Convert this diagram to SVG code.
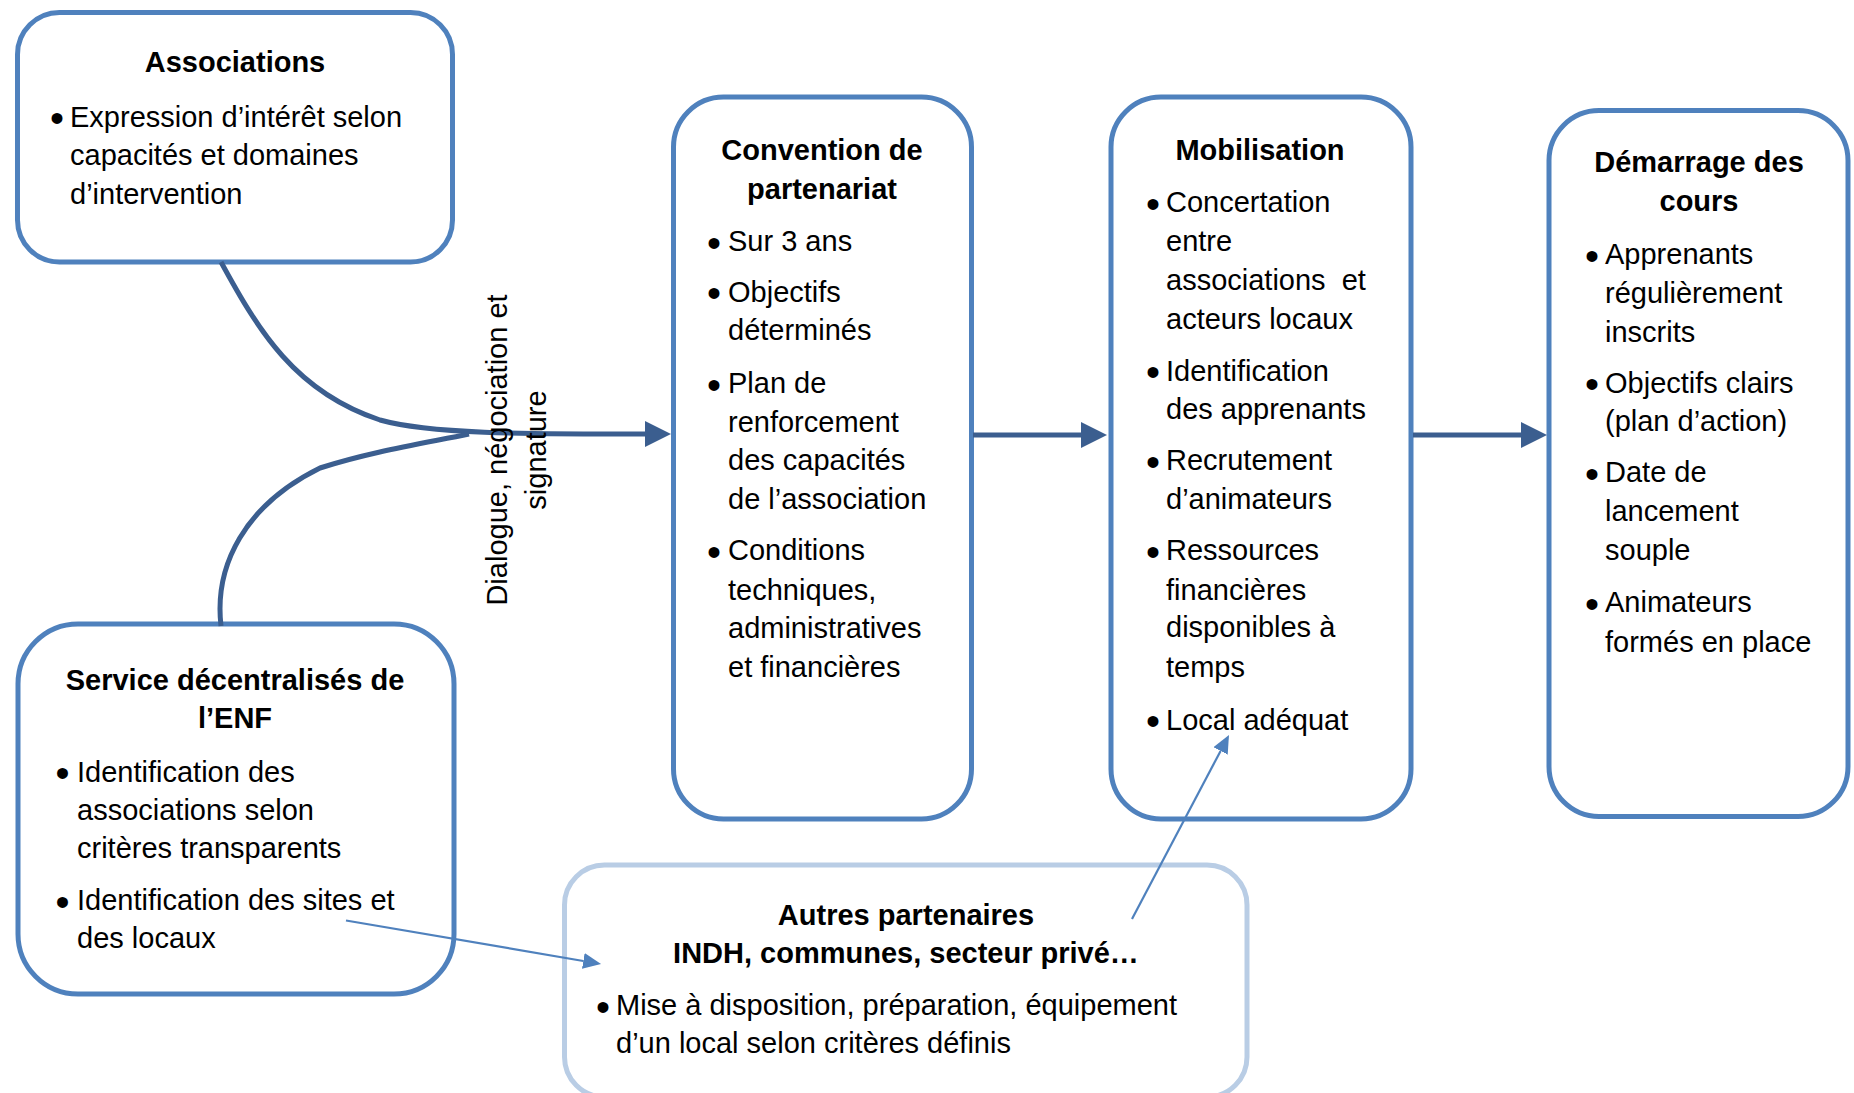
<svg xmlns="http://www.w3.org/2000/svg" width="1854" height="1093" viewBox="0 0 1854 1093">
  <defs>
    <style>
      .box { fill: #ffffff; stroke: #4F81BD; stroke-width: 5; }
      .box-pale { fill: #ffffff; stroke: #B9CDE5; stroke-width: 5; }
      text { font-family: "Liberation Sans", Arial, sans-serif; font-size: 29px; fill: #000000; }
      .title { font-weight: bold; text-anchor: middle; }
      .bullet { font-size: 40px; }
      .flow { fill: none; stroke: #3B5E8F; stroke-width: 5; }
      .link { fill: none; stroke: #4F81BD; stroke-width: 2.2; }
    </style>
    <marker id="head" markerUnits="userSpaceOnUse" markerWidth="26" markerHeight="26" viewBox="0 0 26 26" refX="0" refY="13" orient="auto">
      <path d="M0,0 L26,13 L0,26 z" fill="#3B5E8F"/>
    </marker>
    <marker id="head-thin" markerUnits="userSpaceOnUse" markerWidth="18" markerHeight="16" viewBox="0 0 18 16" refX="0" refY="8" orient="auto">
      <path d="M0,0 L18,8 L0,16 z" fill="#4F81BD"/>
    </marker>
  </defs>

  <!-- Associations -->
  <g id="associations">
    <rect class="box" x="17.5" y="12.5" width="435" height="249.5" rx="42"/>
    <text class="title" x="235" y="72">Associations</text>
    <text class="bullet" x="50" y="132">•</text>
    <text x="70" y="126.5">Expression d’intérêt selon<tspan x="70" y="165">capacités et domaines</tspan><tspan x="70" y="204">d’intervention</tspan></text>
  </g>

  <!-- Convention de partenariat -->
  <g id="convention">
    <rect class="box" x="673.5" y="97" width="298" height="722" rx="50"/>
    <text class="title" x="822" y="160">Convention de<tspan x="822" y="199">partenariat</tspan></text>
    <text class="bullet" x="707" y="256.5">•</text>
    <text x="728" y="251">Sur 3 ans</text>
    <text class="bullet" x="707" y="307">•</text>
    <text x="728" y="301.5">Objectifs<tspan x="728" y="340">déterminés</tspan></text>
    <text class="bullet" x="707" y="398.5">•</text>
    <text x="728" y="393">Plan de<tspan x="728" y="431.5">renforcement</tspan><tspan x="728" y="470">des capacités</tspan><tspan x="728" y="509">de l’association</tspan></text>
    <text class="bullet" x="707" y="565.5">•</text>
    <text x="728" y="560">Conditions<tspan x="728" y="599.5">techniques,</tspan><tspan x="728" y="637.5">administratives</tspan><tspan x="728" y="677">et financières</tspan></text>
  </g>

  <!-- Mobilisation -->
  <g id="mobilisation">
    <rect class="box" x="1111" y="97" width="300" height="722" rx="50"/>
    <text class="title" x="1260" y="160">Mobilisation</text>
    <text class="bullet" x="1146" y="217.5">•</text>
    <text x="1166" y="212" xml:space="preserve">Concertation<tspan x="1166" y="250.6">entre</tspan><tspan x="1166" y="290">associations  et</tspan><tspan x="1166" y="328.7">acteurs locaux</tspan></text>
    <text class="bullet" x="1146" y="386">•</text>
    <text x="1166" y="380.5">Identification<tspan x="1166" y="419.3">des apprenants</tspan></text>
    <text class="bullet" x="1146" y="475.7">•</text>
    <text x="1166" y="470.2">Recrutement<tspan x="1166" y="509">d’animateurs</tspan></text>
    <text class="bullet" x="1146" y="565.5">•</text>
    <text x="1166" y="560">Ressources<tspan x="1166" y="599.6">financières</tspan><tspan x="1166" y="637.4">disponibles à</tspan><tspan x="1166" y="677.2">temps</tspan></text>
    <text class="bullet" x="1146" y="735">•</text>
    <text x="1166" y="729.5">Local adéquat</text>
  </g>

  <!-- Démarrage des cours -->
  <g id="demarrage">
    <rect class="box" x="1549" y="110.5" width="299" height="706" rx="50"/>
    <text class="title" x="1699" y="172">Démarrage des<tspan x="1699" y="211">cours</tspan></text>
    <text class="bullet" x="1585" y="269.5">•</text>
    <text x="1605" y="264">Apprenants<tspan x="1605" y="303">régulièrement</tspan><tspan x="1605" y="342">inscrits</tspan></text>
    <text class="bullet" x="1585" y="398.2">•</text>
    <text x="1605" y="392.7">Objectifs clairs<tspan x="1605" y="431.4">(plan d’action)</tspan></text>
    <text class="bullet" x="1585" y="487.8">•</text>
    <text x="1605" y="482.3">Date de<tspan x="1605" y="521">lancement</tspan><tspan x="1605" y="560">souple</tspan></text>
    <text class="bullet" x="1585" y="617.5">•</text>
    <text x="1605" y="612">Animateurs<tspan x="1605" y="652">formés en place</tspan></text>
  </g>

  <!-- Service décentralisés de l'ENF -->
  <g id="service-enf">
    <rect class="box" x="18" y="624" width="436" height="370" rx="60"/>
    <text class="title" x="235" y="690">Service décentralisés de<tspan x="235" y="728.3">l’ENF</tspan></text>
    <text class="bullet" x="55.5" y="787.2">•</text>
    <text x="77" y="781.7">Identification des<tspan x="77" y="820">associations selon</tspan><tspan x="77" y="858.3">critères transparents</tspan></text>
    <text class="bullet" x="55.5" y="915.5">•</text>
    <text x="77" y="910">Identification des sites et<tspan x="77" y="948.3">des locaux</tspan></text>
  </g>

  <!-- Autres partenaires -->
  <g id="autres-partenaires">
    <rect class="box-pale" x="564.5" y="865" width="682.5" height="232" rx="40"/>
    <text class="title" x="906" y="925">Autres partenaires<tspan x="906" y="963.3">INDH, communes, secteur privé…</tspan></text>
    <text class="bullet" x="596" y="1020.5">•</text>
    <text x="616" y="1015">Mise à disposition, préparation, équipement<tspan x="616" y="1053.3">d’un local selon critères définis</tspan></text>
  </g>

  <!-- Connectors -->
  <g id="connectors">
    <path class="flow" d="M221,262 C258,330 295,392 380,420 C430,434 520,434 645,434" marker-end="url(#head)"/>
    <path class="flow" d="M221,626 C214,565 245,505 320,468 C370,452 420,444 469,434"/>
    <path class="flow" d="M973,435 L1081,435" marker-end="url(#head)"/>
    <path class="flow" d="M1413,435 L1521,435" marker-end="url(#head)"/>
    <path class="link" d="M346,920.5 L583.3,961" marker-end="url(#head-thin)"/>
    <path class="link" d="M1132,919 L1220.6,750.9" marker-end="url(#head-thin)"/>
    <text transform="translate(507,450) rotate(-90)" text-anchor="middle">Dialogue, négociation et<tspan x="0" y="39">signature</tspan></text>
  </g>
</svg>
